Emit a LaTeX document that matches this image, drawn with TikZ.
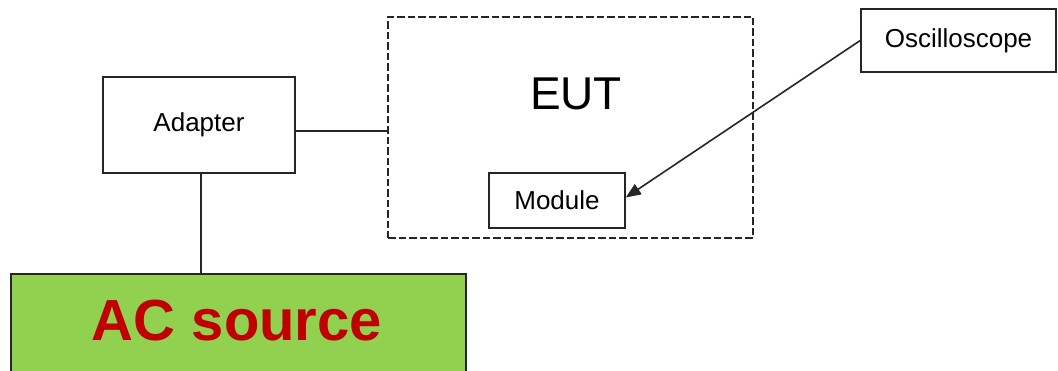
\documentclass[tikz,border=0pt]{standalone}
\usepackage{fontspec}
\setmainfont{Liberation Sans}
\usetikzlibrary{arrows.meta}
\definecolor{acgreen}{HTML}{92D050}
\definecolor{acred}{HTML}{C00000}
\tikzset{
  box/.style={draw=black!85, line width=1.6pt, inner sep=0pt, font=\fontsize{26}{30}\selectfont},
  conn/.style={draw=black!85, line width=1.6pt},
}
\begin{document}
\begin{tikzpicture}[x=1pt, y=-1pt]
\useasboundingbox (0,0) rectangle (1058,371);
\clip (0,0) rectangle (1058,371);
\fill[white] (0,0) rectangle (1058,371);
% boxes
\node[box, minimum width=192pt, minimum height=96pt] (adapter) at (199,125) {Adapter};
\node[draw=black!85, line width=1.6pt, dash pattern=on 7.5pt off 3pt, minimum width=365pt, minimum height=221pt, inner sep=0pt] (eut) at (570.5,127.5) {};
\node[anchor=base, font=\fontsize{46}{52}\selectfont, inner sep=0pt] (eutlabel) at (576,110) {EUT};
\node[box, minimum width=136pt, minimum height=55pt] (module) at (557,200.5) {Module};
\node[box, minimum width=195pt, minimum height=63pt] (osc) at (958.5,40.5) {Oscilloscope};
\node[draw=black!85, line width=1.6pt, fill=acgreen, minimum width=455pt, minimum height=110pt, inner sep=0pt, anchor=north west] (ac) at (10,273) {};
\node[anchor=base, font=\fontsize{58}{64}\selectfont\bfseries, text=acred, inner sep=0pt] (aclabel) at (237,341) {AC source};
% connectors
\draw[conn] ([yshift=-6pt]adapter.east) -- ([yshift=-6pt]adapter.east -| eut.west);
\draw[conn] ([xshift=2pt]adapter.south) -- ([xshift=2pt]adapter.south |- ac.north);
\draw[conn, -{Triangle[length=15pt,width=12pt]}] (osc.west) -- ([yshift=3pt]module.east);
\end{tikzpicture}
\end{document}
